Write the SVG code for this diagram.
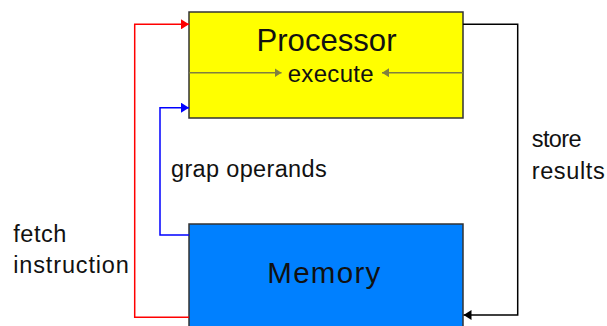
<svg xmlns="http://www.w3.org/2000/svg" width="607" height="326" viewBox="0 0 607 326">
<style>
text{font-family:"Liberation Sans",Arial,sans-serif;fill:#111;}
.lbl{font-size:23.5px;}
.box{stroke:#333;stroke-width:1.5;}
.conn{fill:none;stroke-width:1.5;}
</style>
<defs>
<marker id="ar" markerWidth="8" markerHeight="10" refX="8" refY="5" orient="auto" markerUnits="userSpaceOnUse"><path d="M0,0 L8,5 L0,10 z" fill="#ff0000"/></marker>
<marker id="ab" markerWidth="8" markerHeight="10" refX="8" refY="5" orient="auto" markerUnits="userSpaceOnUse"><path d="M0,0 L8,5 L0,10 z" fill="#0000ff"/></marker>
<marker id="ak" markerWidth="8" markerHeight="10" refX="8" refY="5" orient="auto" markerUnits="userSpaceOnUse"><path d="M0,0 L8,5 L0,10 z" fill="#000"/></marker>
<marker id="ag" markerWidth="7" markerHeight="9" refX="7" refY="4.5" orient="auto" markerUnits="userSpaceOnUse"><path d="M0,0 L7,4.5 L0,9 z" fill="#7f7f40"/></marker>
</defs>
<rect width="607" height="326" fill="#fff"/>
<g id="processor">
<rect class="box" x="189" y="12" width="274" height="106" fill="#ffff00"/>
<line x1="189" y1="72.7" x2="281.5" y2="72.7" stroke="#7f7f40" stroke-width="1.5" marker-end="url(#ag)"/>
<line x1="463" y1="72.7" x2="382" y2="72.7" stroke="#7f7f40" stroke-width="1.5" marker-end="url(#ag)"/>
<text x="256.5" y="50.7" font-size="32" textLength="140" lengthAdjust="spacingAndGlyphs">Processor</text>
<text x="287.7" y="81.7" font-size="24" textLength="86" lengthAdjust="spacing">execute</text>
</g>
<g id="memory">
<rect class="box" x="189" y="224" width="274" height="110" fill="#0080ff"/>
<text x="267.3" y="283.3" font-size="29.5" textLength="113" lengthAdjust="spacing">Memory</text>
</g>
<g id="connectors">
<polyline class="conn" stroke="#ff0000" points="189,317.3 134.7,317.3 134.7,24.3 189,24.3" marker-end="url(#ar)"/>
<polyline class="conn" stroke="#0000ff" points="189,235 160,235 160,107.7 189,107.7" marker-end="url(#ab)"/>
<polyline class="conn" stroke="#000" points="463,24.3 517.7,24.3 517.7,315 463.5,315" marker-end="url(#ak)"/>
</g>
<g id="labels">
<text class="lbl" x="171" y="177" textLength="155.7" lengthAdjust="spacing">grap operands</text>
<text class="lbl" x="13.3" y="241.7" textLength="53" lengthAdjust="spacing">fetch</text>
<text class="lbl" x="13.3" y="273.3" textLength="115.5" lengthAdjust="spacing">instruction</text>
<text class="lbl" x="531.7" y="147.3" textLength="50" lengthAdjust="spacing">store</text>
<text class="lbl" x="531.7" y="179.3" textLength="73" lengthAdjust="spacing">results</text>
</g>
</svg>
